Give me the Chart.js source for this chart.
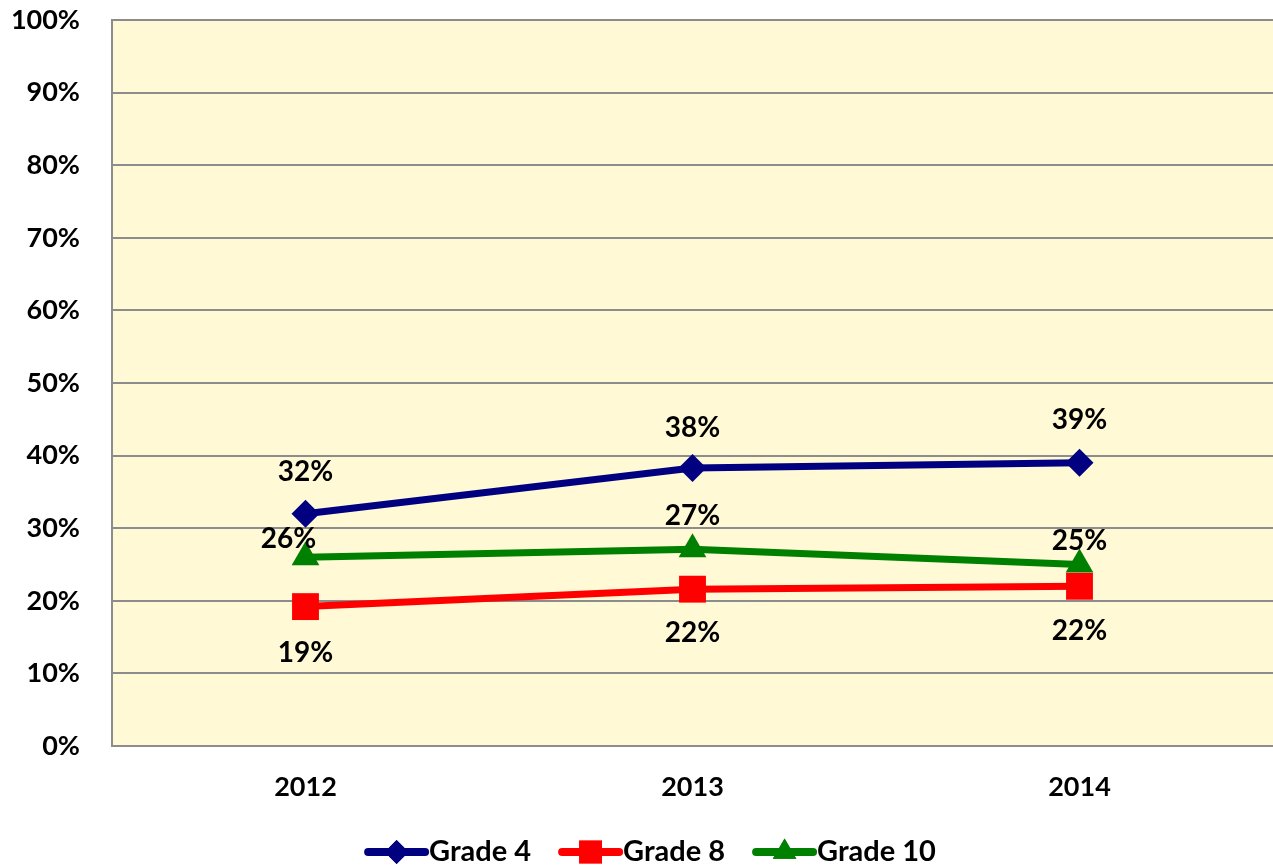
<!DOCTYPE html>
<html><head><meta charset="utf-8">
<script src="https://cdn.jsdelivr.net/npm/chart.js@4/dist/chart.umd.min.js"></script>
<style>html,body{margin:0;padding:0;background:#fff}#wrap{width:1273px;height:865px}</style>
</head><body><div id="wrap"><canvas id="c" width="1273" height="865"></canvas></div>
<script>
const categories = ['2012', '2013', '2014'];
const grade4 = [32, 38.3, 39];
const grade8 = [19.2, 21.6, 22];
const grade10 = [26, 27.1, 25];
const yTicks = [0,10,20,30,40,50,60,70,80,90,100];

const FONT = 'Lato, "Open Sans", sans-serif';

const bgPlugin = {
  id: 'bg',
  beforeDraw(chart) {
    const {ctx, chartArea: a} = chart;
    ctx.save();
    ctx.fillStyle = '#FFF9D6';
    ctx.fillRect(a.left, a.top, a.right - a.left, a.bottom - a.top);
    ctx.restore();
  }
};

const labelOffsets = [[[0,-42],[0,-40],[0,-43]], [[0,46],[0,44],[0,45]], [[-17,-18],[0,-33],[0,-24]]];
const labelPlugin = {
  id: 'vlabels',
  afterDatasetsDraw(chart) {
    const ctx = chart.ctx;
    ctx.save();
    ctx.font = 'bold 28px ' + FONT;
    ctx.fillStyle = '#000';
    ctx.textAlign = 'center';
    ctx.textBaseline = 'middle';
    chart.data.datasets.forEach((ds, di) => {
      chart.getDatasetMeta(di).data.forEach((pt, i) => {
        const o = labelOffsets[di][i];
        ctx.fillText(Math.round(ds.data[i]) + '%', pt.x + o[0], pt.y + o[1]);
      });
    });
    ctx.restore();
  }
};

const legendPlugin = {
  id: 'customLegend',
  afterDraw(chart) {
    const ctx = chart.ctx;
    ctx.save();
    ctx.font = 'bold 29px ' + FONT;
    ctx.textBaseline = 'middle';
    const y = 852, lineLen = 57, gap = 4, itemGap = 31;
    const items = chart.data.datasets.map(ds => ({ds, w: lineLen + gap + ctx.measureText(ds.label).width}));
    const total = items.reduce((s, it) => s + it.w, 0) + itemGap * (items.length - 1);
    let x = 652 - total / 2;
    items.forEach(({ds, w}) => {
      ctx.strokeStyle = ds.borderColor;
      ctx.lineWidth = 8;
      ctx.lineCap = 'round';
      ctx.beginPath(); ctx.moveTo(x, y); ctx.lineTo(x + lineLen, y); ctx.stroke();
      ctx.fillStyle = ds.borderColor;
      Chart.helpers.drawPoint(ctx, {pointStyle: ds.pointStyle, radius: ds.pointRadius * 0.85, rotation: 0, borderWidth: 0}, x + lineLen / 2, y);
      ctx.fill();
      ctx.fillStyle = '#000';
      ctx.textAlign = 'left';
      ctx.fillText(ds.label, x + lineLen + gap, y);
      x += w + itemGap;
    });
    ctx.restore();
  }
};

new Chart(document.getElementById('c'), {
  type: 'line',
  data: {
    labels: categories,
    datasets: [
      {label: 'Grade 4', data: grade4, borderColor: '#000080', backgroundColor: '#000080', borderWidth: 7, pointStyle: 'rectRot', pointRadius: 14, pointHoverRadius: 14, pointBorderWidth: 0},
      {label: 'Grade 8', data: grade8, borderColor: '#FF0000', backgroundColor: '#FF0000', borderWidth: 7, pointStyle: 'rect', pointRadius: 19, pointHoverRadius: 19, pointBorderWidth: 0},
      {label: 'Grade 10', data: grade10, borderColor: '#008000', backgroundColor: '#008000', borderWidth: 7, pointStyle: 'triangle', pointRadius: 16, pointHoverRadius: 16, pointBorderWidth: 0}
    ]
  },
  options: {
    responsive: false,
    animation: false,
    layout: {autoPadding: false, padding: {top: 20, right: 0, left: 0, bottom: 0}},
    plugins: {legend: {display: false}, tooltip: {enabled: false}},
    scales: {
      x: {
        offset: true,
        grid: {display: false, drawTicks: false},
        border: {color: '#8c8c8c', width: 2},
        ticks: {font: {family: FONT, size: 27, weight: 'bold'}, color: '#000', padding: 25},
        afterFit(s) { s.height = 119; s.paddingLeft = 0; s.paddingRight = 0; }
      },
      y: {
        min: 0, max: 100,
        afterBuildTicks(s) { s.ticks = yTicks.map(v => ({value: v})); },
        grid: {color: '#8c8c8c', lineWidth: 2, drawTicks: false},
        border: {color: '#8c8c8c', width: 2},
        ticks: {font: {family: FONT, size: 27, weight: 'bold'}, color: '#000', padding: 32, callback: v => v + '%'},
        afterFit(s) { s.width = 112; s.paddingTop = 0; s.paddingBottom = 0; }
      }
    }
  },
  plugins: [bgPlugin, labelPlugin, legendPlugin]
});
</script>
</body></html>
